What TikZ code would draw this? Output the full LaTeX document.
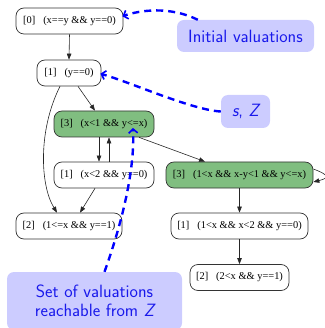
\documentclass[tikz,border=0pt]{standalone}
\usepackage{fontspec}
\newfontfamily\gvfont{Liberation Serif}
\usetikzlibrary{arrows.meta}
\definecolor{gvgreen}{RGB}{128,190,128}
\definecolor{callfill}{RGB}{204,204,255}
\definecolor{calltext}{RGB}{25,25,235}
\definecolor{dashblue}{RGB}{0,0,255}
\tikzset{
  st/.style={draw=black!80, line width=0.7pt, rounded corners=8pt, minimum height=26pt, inner sep=0pt, font=\gvfont\fontsize{10.4}{12}\selectfont},
  stgreen/.style={st, fill=gvgreen},
  edge/.style={draw=black!85, line width=0.6pt, -{Triangle[length=6pt,width=4.5pt]}},
  callout/.style={fill=callfill, rounded corners=7pt, inner sep=0pt, text=calltext, font=\sffamily\fontsize{17.8}{19}\selectfont, align=center},
  pointer/.style={draw=dashblue, line width=2.4pt, dash pattern=on 7pt off 5pt, -{Straight Barb[length=4pt,width=9pt,line width=1.6pt]}, shorten >=-1pt}
}
\newcommand{\gap}{\hspace{8pt}}
\begin{document}
\begin{tikzpicture}[x=1pt,y=-1pt]
\useasboundingbox (0,0) rectangle (324,328);
\node[st, minimum width=107pt] (n0) at (69.5,21) {[0]\gap(x==y \&\& y==0)};
\node[st, minimum width=64pt] (n1) at (69,73) {[1]\gap(y==0)};
\node[stgreen, minimum width=100pt] (g3) at (104,124) {[3]\gap(x<1 \&\& y<=x)};
\node[st, minimum width=100pt] (m1) at (104,175) {[1]\gap(x<2 \&\& y==0)};
\node[stgreen, minimum width=147pt] (gr) at (239.5,175) {[3]\gap(1<x \&\& x-y<1 \&\& y<=x)};
\node[st, minimum width=106pt] (n2) at (69,226) {[2]\gap(1<=x \&\& y==1)};
\node[st, minimum width=137pt] (r1) at (239.5,226) {[1]\gap(1<x \&\& x<2 \&\& y==0)};
\node[st, minimum width=99pt] (r2) at (239.5,277.5) {[2]\gap(2<x \&\& y==1)};

\draw[edge] (n0.south) -- (n1.north);
\draw[edge] ([xshift=9pt]n1.south) -- ([xshift=-9pt]g3.north);
\draw[edge] ([xshift=-9pt]n1.south) .. controls (38,130) and (40,185) .. ([xshift=-12pt]n2.north);
\draw[edge] ([xshift=-5pt]g3.south) -- ([xshift=-5pt]m1.north);
\draw[edge] ([xshift=5pt]m1.north) -- ([xshift=5pt]g3.south);
\draw[edge] ([xshift=-9pt]m1.south) -- ([xshift=11pt]n2.north);
\draw[edge] ([xshift=35pt]g3.south) -- ([xshift=-34.5pt]gr.north);
\draw[edge] ([yshift=6pt]gr.east) .. controls +(16,6) and +(16,-4) .. ([yshift=-7pt]gr.east);
\draw[edge] (gr.south) -- (r1.north);
\draw[edge] (r1.south) -- (r2.north);

\node[callout, minimum width=137pt, minimum height=32pt] (iv) at (245.5,36) {Initial valuations};
\node[callout, minimum width=49pt, minimum height=33pt] (sz) at (245.5,111.5) {{\slshape s}, {\slshape Z}};
\node[callout, minimum width=175pt, minimum height=58pt] (sv) at (94.5,301) {Set of valuations\\reachable from {\slshape Z}};

\draw[pointer] ([xshift=21pt]iv.north west) .. controls (170,6) and (140,10) .. ([yshift=5pt]n0.east);
\draw[pointer] (sz.west) .. controls (192,110) and (130,82) .. ([yshift=-1pt]n1.east);
\draw[pointer] ([xshift=10pt]sv.north) .. controls (122,223) and (135,170) .. ([xshift=29pt,yshift=-5pt]g3.center);
\end{tikzpicture}
\end{document}
